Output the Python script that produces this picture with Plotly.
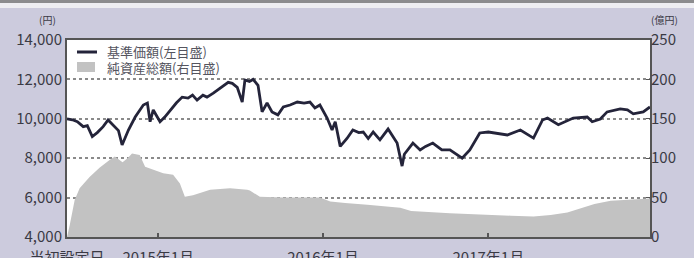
import plotly.graph_objects as go

# --- data ---
nav_dates = [
    "2014-06-13","2014-06-25","2014-07-06","2014-07-19","2014-07-28","2014-08-08","2014-08-19",
    "2014-09-01","2014-09-12","2014-09-23","2014-10-05","2014-10-13","2014-10-20","2014-10-27",
    "2014-11-11","2014-11-20","2014-11-29","2014-12-08","2014-12-14","2014-12-21","2015-01-05",
    "2015-01-16","2015-01-28","2015-02-10","2015-02-23","2015-03-08","2015-03-18","2015-03-28",
    "2015-04-10","2015-04-19","2015-05-03","2015-05-15","2015-05-25","2015-06-05","2015-06-14",
    "2015-06-25","2015-07-06","2015-07-12","2015-07-22","2015-07-30","2015-08-10","2015-08-19",
    "2015-08-30","2015-09-10","2015-09-23","2015-10-05","2015-10-20","2015-11-05","2015-11-20",
    "2015-12-03","2015-12-14","2015-12-25","2016-01-10","2016-01-21","2016-01-28","2016-02-08",
    "2016-02-23","2016-03-07","2016-03-20","2016-03-30","2016-04-10","2016-04-21","2016-05-06",
    "2016-05-24","2016-06-13","2016-06-24","2016-06-29","2016-07-05","2016-07-18","2016-08-03",
    "2016-08-15","2016-08-31","2016-09-20","2016-10-08","2016-10-20","2016-11-04","2016-11-21",
    "2016-12-13","2017-01-01","2017-01-21","2017-02-12","2017-03-13","2017-04-11","2017-05-01",
    "2017-05-12","2017-06-05","2017-07-08","2017-08-08","2017-08-19","2017-09-06","2017-09-21",
    "2017-10-20","2017-11-05","2017-11-18","2017-12-10","2017-12-25",
]
nav_values = [
    10000, 9950, 9850, 9600, 9650, 9100, 9300,
    9600, 9940, 9700, 9400, 8670, 9100, 9430,
    10090, 10400, 10700, 10800, 9850, 10450, 9850,
    10100, 10450, 10800, 11100, 11050, 11200, 10950,
    11200, 11100, 11300, 11500, 11700, 11850, 11800,
    11600, 10850, 11970, 11900, 12000, 11700, 10350,
    10800, 10350, 10200, 10600, 10700, 10850, 10800,
    10850, 10550, 10700, 10040, 9430, 9850, 8600,
    9000, 9430, 9300, 9330, 9000, 9330, 8930,
    9480, 8770, 7600, 8200, 8400, 8770, 8420,
    8600, 8770, 8420, 8420, 8250, 8000, 8420,
    9280, 9330, 9250, 9180, 9430, 9020, 9940,
    10040, 9700, 10040, 10090, 9850, 9990, 10350,
    10500, 10450, 10250, 10350, 10600,
]

asset_dates = [
    "2014-06-13","2014-06-19","2014-06-30","2014-07-11","2014-08-02","2014-08-24","2014-09-16",
    "2014-09-27","2014-10-14","2014-10-25","2014-11-04","2014-11-21","2014-12-03","2014-12-21",
    "2015-01-12","2015-02-03","2015-02-18","2015-03-01","2015-03-19","2015-04-26","2015-06-09",
    "2015-07-17","2015-07-23","2015-08-14","2015-10-05","2015-12-25","2016-01-17","2016-02-19",
    "2016-04-08","2016-06-20","2016-07-14","2016-10-08","2016-12-20","2017-02-20","2017-04-11",
    "2017-05-19","2017-06-25","2017-07-24","2017-08-24","2017-09-29","2017-12-13","2017-12-25",
]
asset_values = [
    0, 15, 47, 62, 76, 88, 98,
    102, 95, 100, 106, 104, 89, 85,
    81, 79, 68, 51, 53, 60, 62,
    60, 59, 51, 50, 50, 45, 43,
    41, 37, 33, 30, 28, 27, 26,
    28, 31, 36, 42, 46, 48, 49,
]

x_tick_vals = ["2014-06-13", "2015-01-01", "2016-01-01", "2017-01-01"]
x_tick_text = ["当初設定日", "2015年1月", "2016年1月", "2017年1月"]
left_ticks = [4000, 6000, 8000, 10000, 12000, 14000]
right_ticks = [0, 50, 100, 150, 200, 250]
legend_names = ["基準価額(左目盛)", "純資産総額(右目盛)"]

FONT = "Noto Sans CJK JP"
BG = "#cccbdd"
TXT = "#3a3a44"

# plot-area geometry in pixels
L, R, T, B = 67, 650, 40, 237
W, H = R - L, B - T


def px(x):
    return (x - L) / W


def py(y):
    return (B - y) / H


fig = go.Figure()
fig.add_trace(go.Scatter(
    x=asset_dates, y=asset_values, yaxis="y2", mode="lines",
    line=dict(width=0, color="#c2c2c2"), fill="tozeroy", fillcolor="#c2c2c2",
    name=legend_names[1], showlegend=False, hoverinfo="skip",
))
fig.add_trace(go.Scatter(
    x=nav_dates, y=nav_values, yaxis="y", mode="lines",
    line=dict(width=2.8, color="#24243a"),
    name=legend_names[0], showlegend=False,
))

fig.update_layout(
    width=694, height=258,
    margin=dict(l=L, r=694 - R, t=T, b=258 - B, autoexpand=False),
    paper_bgcolor=BG, plot_bgcolor="white",
    font=dict(family=FONT, size=14, color=TXT),
    xaxis=dict(
        type="date", range=[nav_dates[0], nav_dates[-1]],
        tickvals=x_tick_vals, ticktext=x_tick_text,
        ticks="inside", ticklen=4, tickwidth=1.5, tickcolor="#555",
        showgrid=False, showline=True, linecolor="#555", linewidth=2, mirror=True,
        tickfont=dict(size=15, color=TXT), ticklabelstandoff=6, automargin=False,
    ),
    yaxis=dict(
        range=[4000, 14000], tickvals=left_ticks, tickformat=",d",
        showgrid=True, gridcolor="#8a8a8a", griddash="dot", gridwidth=1.5,
        showline=True, linecolor="#555", linewidth=2, mirror=True,
        ticks="", tickfont=dict(size=15, color=TXT), zeroline=False, automargin=False,
    ),
    yaxis2=dict(
        range=[0, 250], tickvals=right_ticks, overlaying="y", side="right",
        showgrid=False, ticks="inside", ticklen=4, tickcolor="#555",
        tickfont=dict(size=15, color=TXT), zeroline=False, automargin=False,
    ),
    showlegend=False,
)

# header band
fig.add_shape(type="rect", xref="paper", yref="paper", x0=-0.2, x1=1.2,
              y0=py(3), y1=py(-5), fillcolor="#8c8c8e", line_width=0, layer="above")
fig.add_shape(type="rect", xref="paper", yref="paper", x0=-0.2, x1=1.2,
              y0=py(8), y1=py(3), fillcolor="#eeeef2", line_width=0, layer="above")

# unit labels
fig.add_annotation(text="(円)", xref="paper", yref="paper", x=px(47), y=py(20),
                   xanchor="center", yanchor="middle", showarrow=False, font=dict(size=10, color=TXT))
fig.add_annotation(text="(億円)", xref="paper", yref="paper", x=px(665), y=py(20),
                   xanchor="center", yanchor="middle", showarrow=False, font=dict(size=10, color=TXT))

# custom legend
fig.add_shape(type="line", xref="paper", yref="paper", x0=px(77), x1=px(97),
              y0=py(52), y1=py(52), line=dict(color="#24243a", width=3))
fig.add_shape(type="rect", xref="paper", yref="paper", x0=px(77), x1=px(95),
              y0=py(72), y1=py(62), fillcolor="#c2c2c2", line_width=0)
for i, name in enumerate(legend_names):
    fig.add_annotation(text=name, xref="paper", yref="paper", x=px(105),
                       y=py(52 + 15 * i), xanchor="left", yanchor="middle",
                       showarrow=False, font=dict(size=13, color="#55555f"))

fig.write_html(
    "out.html",
    config={"displayModeBar": False},
    post_script="document.body.style.margin='0';document.body.style.background='" + BG + "';",
)
